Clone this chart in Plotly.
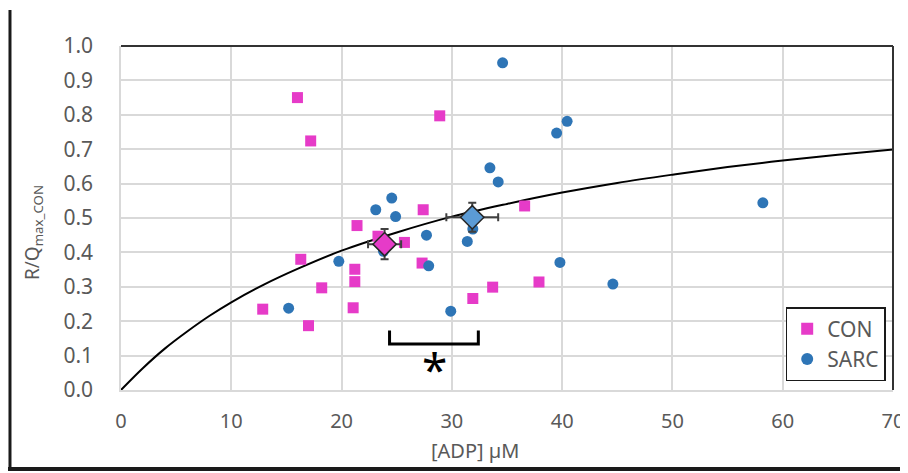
import plotly.graph_objects as go

# CON (magenta squares)
con_x = [16.0, 17.2, 28.9, 27.4, 21.4, 23.3, 16.3, 21.2, 21.2, 18.2,
         12.85, 21.05, 17.0, 25.7, 27.3, 36.6, 31.9, 33.7, 37.9]
con_y = [0.850, 0.724, 0.797, 0.524, 0.478, 0.447, 0.380, 0.351, 0.315, 0.297,
         0.235, 0.239, 0.187, 0.429, 0.369, 0.535, 0.266, 0.299, 0.314]

# SARC (blue circles)
sarc_x = [24.55, 23.1, 24.9, 27.7, 34.6, 40.45, 39.5, 33.45, 34.2, 58.2,
          31.9, 31.4, 19.75, 23.8, 27.9, 15.2, 29.9, 39.8, 44.6]
sarc_y = [0.558, 0.524, 0.504, 0.450, 0.951, 0.781, 0.747, 0.646, 0.605, 0.544,
          0.468, 0.432, 0.374, 0.403, 0.361, 0.238, 0.229, 0.371, 0.308]

# group means with SEM
mean_con = dict(x=23.9, y=0.424, ex=1.5, ey=0.044)
mean_sarc = dict(x=31.85, y=0.502, ex=2.35, ey=0.042)

# fitted curve
fit_x = [0, 2, 4, 6, 8, 10, 13, 16, 20, 25, 30, 35, 40, 45, 50, 55, 60, 65, 70]
fit_y = [0.0, 0.064, 0.121, 0.170, 0.215, 0.255, 0.307, 0.352, 0.405, 0.458,
         0.504, 0.541, 0.574, 0.602, 0.626, 0.648, 0.667, 0.684, 0.699]

magenta = "#E63BC8"
blue = "#2E75B6"
grey_txt = "#595959"
font = "Noto Sans"

fig = go.Figure()

fig.add_trace(go.Scatter(x=fit_x, y=fit_y, mode="lines", line=dict(color="black", width=2, shape="spline"),
                         showlegend=False, hoverinfo="skip"))

fig.add_trace(go.Scatter(x=con_x, y=con_y, mode="markers", name="CON",
                         marker=dict(symbol="square", size=11, color=magenta)))
fig.add_trace(go.Scatter(x=sarc_x, y=sarc_y, mode="markers", name="SARC",
                         marker=dict(symbol="circle", size=11, color=blue)))

for m, col in [(mean_con, magenta), (mean_sarc, "#5B9BD5")]:
    fig.add_trace(go.Scatter(
        x=[m["x"]], y=[m["y"]], mode="markers", showlegend=False,
        marker=dict(symbol="diamond", size=18, color=col, line=dict(color="#262626", width=1.5)),
        error_x=dict(type="constant", value=m["ex"], color="#404040", thickness=2, width=4),
        error_y=dict(type="constant", value=m["ey"], color="#404040", thickness=2, width=4)))

fig.update_xaxes(range=[0, 70], dtick=10, showgrid=True, gridcolor="#d9d9d9", gridwidth=1.5,
                 zeroline=False, showline=True, linecolor="#d9d9d9", linewidth=1.5,
                 ticks="", ticklabelstandoff=12, automargin=False,
                 tickfont=dict(family=font, size=20, color=grey_txt))
fig.update_yaxes(range=[0, 1.0], dtick=0.1, tickformat=".1f", showgrid=True, gridcolor="#d9d9d9",
                 gridwidth=1.5, zeroline=False, showline=True, linecolor="#d9d9d9", linewidth=1.5,
                 ticks="", ticklabelstandoff=22, automargin=False,
                 tickfont=dict(family=font, size=21, color=grey_txt))

shapes = [
    # dark top and right frame of plot area
    dict(type="line", xref="paper", yref="paper", x0=0, x1=1, y0=1, y1=1, line=dict(color="#333333", width=2)),
    dict(type="line", xref="paper", yref="paper", x0=1, x1=1, y0=0, y1=1, line=dict(color="#333333", width=2)),
    # outer black border (left and bottom)
    dict(type="line", xref="paper", yref="paper", x0=-0.1438, x1=-0.1438, y0=-0.232, y1=1.105,
         line=dict(color="#1a1a1a", width=3)),
    dict(type="line", xref="paper", yref="paper", x0=-0.16, x1=1.03, y0=-0.2297, y1=-0.2297,
         line=dict(color="#1a1a1a", width=4)),
    # significance bracket
    dict(type="path", xref="x", yref="y", path="M 24.35 0.173 L 24.35 0.134 L 32.4 0.134 L 32.4 0.173",
         line=dict(color="black", width=3)),
]

annotations = [
    dict(text="*", x=28.4, y=0.062, xref="x", yref="y", showarrow=False,
         font=dict(family=font, size=46, color="black"), yanchor="middle"),
    dict(text="[ADP] µM", x=0.4585, y=-0.1773, xref="paper", yref="paper", showarrow=False,
         font=dict(family=font, size=20, color=grey_txt), yanchor="middle"),
    dict(text="R/Q<sub>max_CON</sub>", x=-0.114, y=0.459, xref="paper", yref="paper", showarrow=False,
         textangle=-90, font=dict(family=font, size=19, color=grey_txt), xanchor="center", yanchor="middle"),
]

# page body adds an 8px offset, so the figure is sized to compensate
fig.update_layout(
    width=900, height=465,
    margin=dict(l=113, r=15, t=38, b=83),
    plot_bgcolor="white", paper_bgcolor="white",
    shapes=shapes, annotations=annotations,
    legend=dict(x=0.861, y=0.241, xanchor="left", yanchor="top", bgcolor="white",
                bordercolor="#1a1a1a", borderwidth=1.5,
                font=dict(family=font, size=21, color=grey_txt),
                itemsizing="constant"),
)

fig.write_html("out.html")
